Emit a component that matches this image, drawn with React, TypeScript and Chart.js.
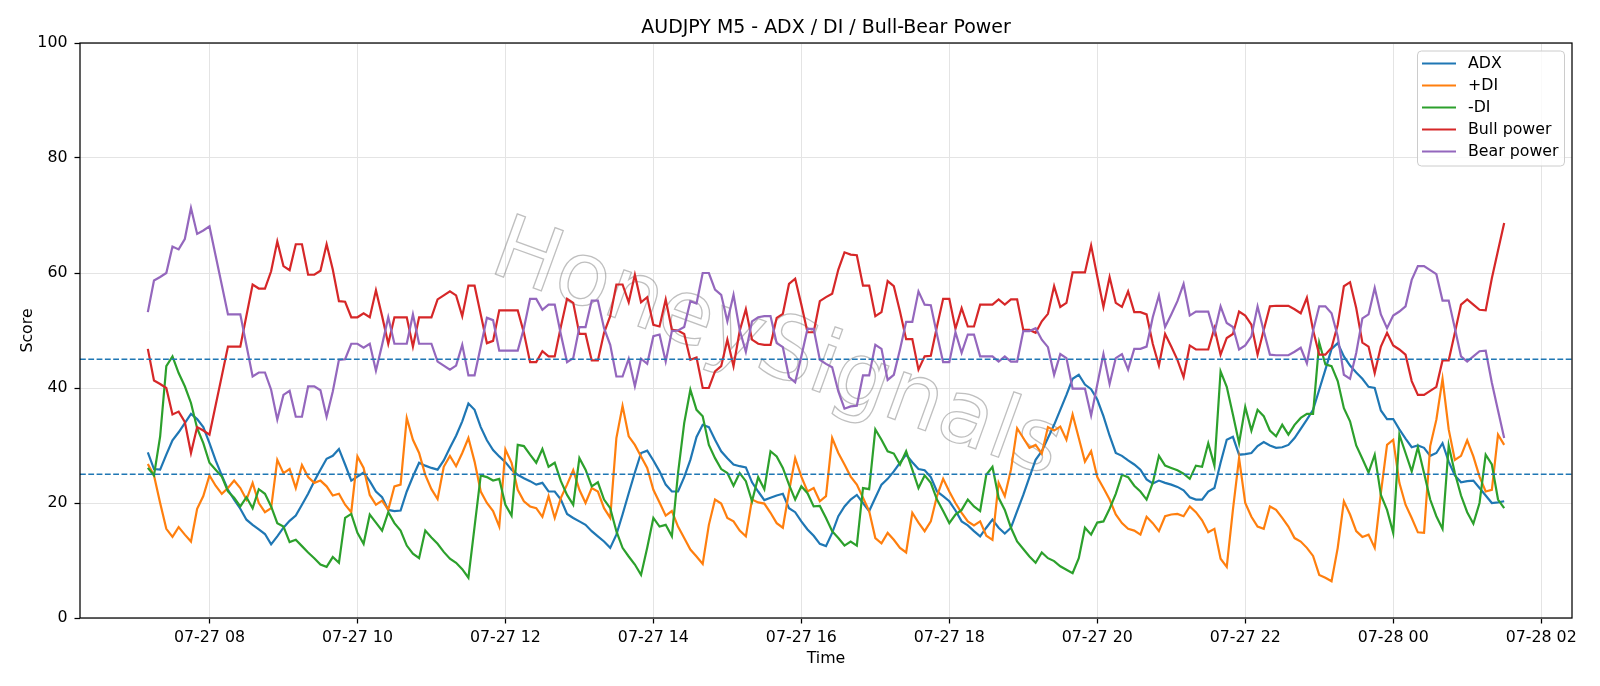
import React, { useEffect, useRef } from 'react';
import { Chart, registerables } from 'chart.js';

Chart.register(...registerables);

// time axis: minutes since 07-27 00:00, one bar every 5 minutes from 07:10
const startMinute = 430;
const stepMinutes = 5;
const xMin = 375;
const xMax = 1585;
const xTickMinutes = [480, 600, 720, 840, 960, 1080, 1200, 1320, 1440, 1560];
const yTicks = [0, 20, 40, 60, 80, 100];
const thresholds = [25, 45];
const seriesNames = ['ADX', '+DI', '-DI', 'Bull power', 'Bear power'];
const seriesColors = ['#1f77b4', '#ff7f0e', '#2ca02c', '#d62728', '#9467bd'];
const titleText = 'AUDJPY M5 - ADX / DI / Bull-Bear Power';
const watermarkText = 'HoneySignals';

const adx = [
  28.8, 25.9, 25.8, 28.4, 30.9, 32.3, 33.9, 35.5, 34.6, 33.2, 30.4, 27.4, 24.8, 22.3, 20.6, 19.0, 17.1, 16.2, 15.4, 14.6, 12.8, 14.2,
  15.7, 16.9, 17.8, 19.7, 21.6, 23.8, 25.8, 27.7, 28.2, 29.4, 26.7, 23.9, 24.6, 25.3, 23.8, 22.0, 21.0, 18.8, 18.6, 18.7, 22.0, 24.6, 27.0,
  26.5, 26.1, 25.8, 27.4, 29.6, 31.7, 34.2, 37.3, 36.2, 33.2, 30.9, 29.2, 28.1, 27.1, 25.8, 24.9, 24.3, 23.8, 23.2, 23.5, 22.0, 22.0,
  20.6, 18.1, 17.4, 16.8, 16.2, 15.1, 14.2, 13.3, 12.2, 14.5, 18.0, 21.7, 25.3, 28.7, 29.1, 27.4, 25.5, 23.2, 22.0, 22.0, 24.5, 27.5, 31.5,
  33.6, 33.2, 31.0, 29.0, 27.8, 26.7, 26.4, 26.2, 23.6, 22.0, 20.5, 20.9, 21.3, 21.6, 19.1, 18.4, 16.8, 15.4, 14.3, 12.9, 12.5, 14.8, 17.7,
  19.4, 20.6, 21.4, 20.0, 18.6, 20.9, 23.2, 24.2, 25.5, 27.0, 28.4, 27.1, 25.9, 25.7, 24.5, 22.0, 21.2, 20.3, 18.7, 16.8, 16.1, 15.1,
  14.2, 15.7, 17.1, 15.7, 14.7, 15.7, 18.6, 21.4, 24.5, 27.5, 29.0, 31.3, 33.6, 36.2, 38.8, 41.6, 42.3, 40.6, 39.8, 38.0, 35.1, 31.7, 28.7,
  28.2, 27.4, 26.7, 25.8, 24.1, 23.4, 23.9, 23.5, 23.2, 22.8, 22.2, 21.0, 20.6, 20.6, 22.0, 22.6, 27.0, 31.0, 31.5, 28.4, 28.5, 28.7, 29.9,
  30.6, 30.0, 29.6, 29.7, 30.1, 31.3, 32.9, 34.5, 36.2, 39.7, 43.2, 46.8, 47.8, 45.5, 43.9, 42.7, 41.6, 40.2, 40.0, 36.1, 34.6, 34.6,
  32.8, 31.2, 29.7, 30.0, 29.6, 28.2, 28.7, 30.4, 27.2, 24.8, 23.6, 23.8, 23.9, 22.6, 21.3, 20.0, 20.1, 20.3,
];

const plusDI = [
  26.8, 24.8, 20.0, 15.5, 14.1, 15.8, 14.5, 13.3, 19.0, 21.2, 24.8, 23.0, 21.6, 22.6, 23.9, 22.6, 20.6, 23.5, 20.0, 18.4, 19.1, 27.5,
  25.2, 25.9, 22.6, 26.6, 24.5, 23.5, 23.9, 22.9, 21.3, 21.6, 19.7, 18.4, 28.1, 26.1, 21.4, 19.7, 20.4, 18.8, 22.9, 23.2, 34.8, 31.0, 28.7,
  24.9, 22.4, 20.7, 26.3, 28.2, 26.4, 28.7, 31.3, 27.2, 22.0, 20.0, 18.6, 15.9, 29.3, 27.0, 22.3, 20.3, 19.4, 19.1, 17.6, 21.2, 17.4,
  20.9, 23.2, 25.7, 22.3, 20.0, 22.6, 22.0, 19.1, 17.4, 31.3, 36.9, 31.6, 30.1, 28.1, 26.1, 22.3, 20.1, 17.8, 18.6, 15.9, 13.9, 11.9, 10.7,
  9.4, 16.2, 20.6, 19.9, 17.4, 16.8, 15.2, 14.2, 20.6, 20.1, 19.9, 18.3, 16.5, 15.7, 22.0, 27.8, 24.6, 22.0, 22.6, 20.3, 21.2, 31.3, 28.7,
  26.7, 24.6, 23.2, 20.9, 18.6, 13.9, 13.0, 14.8, 13.6, 12.2, 11.4, 18.3, 16.6, 15.1, 16.8, 21.2, 24.2, 22.0, 20.0, 18.3, 16.8, 16.1,
  16.8, 14.3, 13.6, 23.5, 21.2, 25.8, 33.0, 31.3, 29.6, 30.1, 28.6, 33.2, 32.6, 33.3, 31.0, 35.4, 31.3, 27.2, 29.0, 24.5, 22.6, 20.6, 18.0,
  16.5, 15.5, 15.2, 14.5, 17.6, 16.5, 15.1, 17.7, 18.0, 18.1, 17.7, 19.4, 18.4, 17.0, 14.9, 15.5, 10.3, 8.9, 18.8, 27.8, 20.0, 17.6, 15.9,
  15.5, 19.4, 18.8, 17.4, 15.9, 13.9, 13.3, 12.2, 10.8, 7.5, 7.0, 6.4, 12.2, 20.3, 18.0, 15.1, 14.1, 14.5, 12.2, 21.7, 30.1, 31.0,
  23.5, 19.7, 17.4, 14.9, 14.8, 29.9, 34.5, 41.6, 32.8, 27.5, 28.2, 30.9, 28.1, 24.6, 22.0, 22.3, 31.9, 30.1,
];

const minusDI = [
  26.1, 24.8, 31.6, 43.8, 45.5, 42.6, 40.3, 37.4, 33.0, 30.4, 27.0, 25.8, 24.6, 22.0, 20.9, 19.4, 21.0, 19.1, 22.4, 21.6, 19.4, 16.5,
  15.9, 13.2, 13.6, 12.5, 11.4, 10.4, 9.3, 8.9, 10.6, 9.6, 17.4, 18.1, 14.8, 12.9, 18.0, 16.6, 15.2, 18.4, 16.5, 15.2, 12.6, 11.2, 10.4,
  15.2, 14.0, 12.9, 11.5, 10.3, 9.6, 8.5, 7.0, 15.9, 24.8, 24.5, 23.9, 24.2, 19.7, 17.8, 30.1, 29.9, 28.4, 27.0, 29.4, 26.3, 27.0,
  23.8, 21.4, 19.7, 27.8, 25.8, 22.9, 23.6, 20.6, 19.1, 15.1, 12.2, 10.7, 9.3, 7.5, 12.2, 17.4, 15.9, 16.2, 14.2, 25.2, 33.9, 39.7, 36.2,
  35.1, 30.1, 27.8, 25.9, 25.2, 23.0, 25.2, 23.8, 20.3, 24.5, 22.4, 29.0, 28.1, 26.1, 23.2, 20.6, 22.9, 21.7, 19.4, 19.5, 17.4, 15.1, 13.9,
  12.6, 13.3, 12.6, 22.6, 22.4, 32.8, 31.0, 29.0, 28.6, 26.7, 29.0, 25.8, 22.6, 24.8, 23.5, 20.6, 18.6, 16.5, 18.0, 18.8, 20.6, 19.4,
  18.6, 24.9, 26.3, 20.9, 18.8, 15.7, 13.3, 12.0, 10.7, 9.6, 11.4, 10.4, 9.9, 9.0, 8.4, 7.8, 10.4, 15.7, 14.5, 16.6, 16.8, 19.0, 21.6,
  24.9, 24.5, 23.0, 22.0, 20.6, 23.5, 28.2, 26.5, 26.1, 25.7, 25.1, 24.2, 26.5, 26.3, 30.4, 26.5, 42.9, 40.2, 35.4, 30.4, 36.7, 32.6, 36.2,
  35.1, 32.6, 31.6, 33.6, 31.9, 33.6, 34.8, 35.5, 35.5, 47.9, 44.1, 43.8, 41.2, 36.5, 34.2, 30.0, 27.7, 25.3, 28.4, 21.4, 18.8, 14.8,
  31.9, 28.7, 25.5, 29.7, 25.2, 20.6, 17.7, 15.5, 30.0, 25.2, 21.3, 18.4, 16.4, 20.0, 28.4, 26.7, 20.6, 19.1,
];

const bullPower = [
  46.8, 41.3, 40.7, 40.0, 35.4, 35.9, 34.1, 28.7, 33.2, 32.6, 31.9, 37.0, 42.1, 47.2, 47.2, 47.2, 52.6, 58.0, 57.3, 57.3, 60.3, 65.5,
  61.2, 60.5, 65.0, 65.0, 59.7, 59.7, 60.4, 65.0, 60.6, 55.1, 55.0, 52.3, 52.3, 53.0, 52.3, 57.0, 52.5, 47.7, 52.3, 52.3, 52.3, 47.2, 52.3,
  52.3, 52.3, 55.4, 56.1, 56.8, 56.1, 52.5, 57.8, 57.8, 52.8, 47.8, 48.2, 53.5, 53.5, 53.5, 53.5, 49.6, 44.5, 44.5, 46.4, 45.5, 45.5,
  50.7, 55.5, 54.8, 49.4, 49.4, 44.8, 44.8, 49.6, 52.5, 58.0, 58.0, 54.9, 59.7, 54.9, 55.8, 51.0, 50.7, 55.4, 50.1, 50.0, 49.4, 44.9, 45.3,
  40.0, 40.0, 42.9, 43.8, 48.4, 43.8, 49.9, 53.7, 48.4, 47.7, 47.5, 47.5, 52.2, 52.9, 58.1, 59.0, 54.5, 49.7, 49.7, 55.1, 55.8, 56.4, 60.6,
  63.6, 63.2, 63.1, 57.8, 57.8, 52.5, 53.2, 58.6, 57.7, 53.3, 48.5, 48.5, 43.2, 45.5, 45.6, 50.7, 55.5, 55.5, 50.3, 53.9, 50.7, 50.7,
  54.5, 54.5, 54.5, 55.4, 54.5, 55.4, 55.4, 50.1, 50.1, 49.6, 51.6, 52.9, 57.7, 54.1, 54.8, 60.1, 60.1, 60.1, 64.8, 59.4, 54.1, 59.3, 54.8,
  54.1, 56.8, 53.2, 53.2, 52.8, 47.7, 43.9, 49.4, 47.2, 44.9, 41.9, 47.4, 46.7, 46.7, 46.7, 50.4, 45.8, 48.7, 49.4, 53.3, 52.6, 51.0, 45.8,
  50.1, 54.2, 54.3, 54.3, 54.3, 53.7, 53.0, 55.7, 50.1, 45.8, 45.8, 47.0, 51.0, 57.7, 58.4, 53.9, 47.9, 47.2, 42.6, 47.2, 49.6, 47.4,
  46.7, 45.8, 41.2, 38.8, 38.8, 39.5, 40.2, 44.8, 44.8, 49.6, 54.5, 55.4, 54.5, 53.6, 53.5, 59.1, 63.9, 68.7,
];

const bearPower = [
  53.2, 58.7, 59.3, 60.0, 64.6, 64.1, 65.9, 71.3, 66.8, 67.4, 68.1, 63.0, 57.9, 52.8, 52.8, 52.8, 47.4, 42.0, 42.7, 42.7, 39.7, 34.5,
  38.8, 39.5, 35.0, 35.0, 40.3, 40.3, 39.6, 35.0, 39.4, 44.9, 45.0, 47.7, 47.7, 47.0, 47.7, 43.0, 47.5, 52.3, 47.7, 47.7, 47.7, 52.8, 47.7,
  47.7, 47.7, 44.6, 43.9, 43.2, 43.9, 47.5, 42.2, 42.2, 47.2, 52.2, 51.8, 46.5, 46.5, 46.5, 46.5, 50.4, 55.5, 55.5, 53.6, 54.5, 54.5,
  49.3, 44.5, 45.2, 50.6, 50.6, 55.2, 55.2, 50.4, 47.5, 42.0, 42.0, 45.1, 40.3, 45.1, 44.2, 49.0, 49.3, 44.6, 49.9, 50.0, 50.6, 55.1, 54.7,
  60.0, 60.0, 57.1, 56.2, 51.6, 56.2, 50.1, 46.3, 51.6, 52.3, 52.5, 52.5, 47.8, 47.1, 41.9, 41.0, 45.5, 50.3, 50.3, 44.9, 44.2, 43.6, 39.4,
  36.4, 36.8, 36.9, 42.2, 42.2, 47.5, 46.8, 41.4, 42.3, 46.7, 51.5, 51.5, 56.8, 54.5, 54.4, 49.3, 44.5, 44.5, 49.7, 46.1, 49.3, 49.3,
  45.5, 45.5, 45.5, 44.6, 45.5, 44.6, 44.6, 49.9, 49.9, 50.4, 48.4, 47.1, 42.3, 45.9, 45.2, 39.9, 39.9, 39.9, 35.2, 40.6, 45.9, 40.7, 45.2,
  45.9, 43.2, 46.8, 46.8, 47.2, 52.3, 56.1, 50.6, 52.8, 55.1, 58.1, 52.6, 53.3, 53.3, 53.3, 49.6, 54.2, 51.3, 50.6, 46.7, 47.4, 49.0, 54.2,
  49.9, 45.8, 45.7, 45.7, 45.7, 46.3, 47.0, 44.3, 49.9, 54.2, 54.2, 53.0, 49.0, 42.3, 41.6, 46.1, 52.1, 52.8, 57.4, 52.8, 50.4, 52.6,
  53.3, 54.2, 58.8, 61.2, 61.2, 60.5, 59.8, 55.2, 55.2, 50.4, 45.5, 44.6, 45.5, 46.4, 46.5, 40.9, 36.1, 31.3,
];

const FONT = '"DejaVu Sans", "Liberation Sans", sans-serif';
const FS = 15.8;

function fmtTick(v: number): string {
  const m = Number(v);
  const day = m >= 1440 ? '07-28' : '07-27';
  const h = Math.floor(m / 60) % 24;
  return `${day} ${String(h).padStart(2, '0')}`;
}

const decorPlugin = {
  id: 'decor',
  beforeDatasetsDraw(chart: any) {
    const ctx = chart.ctx as CanvasRenderingContext2D;
    const a = chart.chartArea;
    ctx.save();
    ctx.beginPath();
    ctx.rect(a.left, a.top, a.right - a.left, a.bottom - a.top);
    ctx.clip();
    ctx.translate(776, 352);
    ctx.rotate((20 * Math.PI) / 180);
    ctx.font = `88px ${FONT}`;
    ctx.textAlign = 'center';
    ctx.textBaseline = 'middle';
    ctx.lineWidth = 1.3;
    ctx.strokeStyle = 'rgba(128,128,128,0.5)';
    ctx.strokeText(watermarkText, 0, 0);
    ctx.restore();
  },
  afterDraw(chart: any) {
    const ctx = chart.ctx as CanvasRenderingContext2D;
    const a = chart.chartArea;
    ctx.save();
    // frame
    ctx.strokeStyle = '#000';
    ctx.lineWidth = 1.25;
    ctx.strokeRect(a.left, a.top, a.right - a.left, a.bottom - a.top);
    // title
    ctx.fillStyle = '#000';
    ctx.font = `${FS * 1.2}px ${FONT}`;
    ctx.textAlign = 'center';
    ctx.textBaseline = 'alphabetic';
    ctx.fillText(titleText, (a.left + a.right) / 2, 32.5);
    // legend
    const bx = 1417.5, by = 51, bw = 147, bh = 115, r = 4;
    ctx.beginPath();
    ctx.moveTo(bx + r, by);
    ctx.lineTo(bx + bw - r, by);
    ctx.quadraticCurveTo(bx + bw, by, bx + bw, by + r);
    ctx.lineTo(bx + bw, by + bh - r);
    ctx.quadraticCurveTo(bx + bw, by + bh, bx + bw - r, by + bh);
    ctx.lineTo(bx + r, by + bh);
    ctx.quadraticCurveTo(bx, by + bh, bx, by + bh - r);
    ctx.lineTo(bx, by + r);
    ctx.quadraticCurveTo(bx, by, bx + r, by);
    ctx.closePath();
    ctx.fillStyle = 'rgba(255,255,255,0.8)';
    ctx.fill();
    ctx.strokeStyle = '#cccccc';
    ctx.lineWidth = 1;
    ctx.stroke();
    ctx.font = `${FS}px ${FONT}`;
    ctx.textAlign = 'left';
    ctx.textBaseline = 'middle';
    seriesNames.forEach((name, k) => {
      const y = 63.5 + 22 * k;
      ctx.strokeStyle = seriesColors[k];
      ctx.lineWidth = 2.2;
      ctx.beginPath();
      ctx.moveTo(1422, y);
      ctx.lineTo(1456, y);
      ctx.stroke();
      ctx.fillStyle = '#000';
      ctx.fillText(name, 1468, y + 0.5);
    });
    ctx.restore();
  },
};

export default function App() {
  const ref = useRef<HTMLCanvasElement>(null);
  useEffect(() => {
    document.body.style.margin = '0';
    const canvas = ref.current;
    if (!canvas) return;
    const pts = (arr: number[]) => arr.map((v, i) => ({ x: startMinute + i * stepMinutes, y: v }));
    const series = [adx, plusDI, minusDI, bullPower, bearPower];
    const datasets: any[] = series.map((arr, k) => ({
      label: seriesNames[k],
      data: pts(arr),
      borderColor: seriesColors[k],
      backgroundColor: seriesColors[k],
      borderWidth: 2.2,
      pointRadius: 0,
      tension: 0,
      fill: false,
      order: 10 - k,
    }));
    thresholds.forEach((t, k) => {
      datasets.push({
        label: `th${t}`,
        data: [
          { x: xMin, y: t },
          { x: xMax, y: t },
        ],
        borderColor: '#1f77b4',
        borderWidth: 1.4,
        borderDash: [5.8, 2.5],
        pointRadius: 0,
        fill: false,
        order: 2 - k,
      });
    });
    const chart = new Chart(canvas, {
      type: 'line',
      data: { datasets },
      plugins: [decorPlugin],
      options: {
        animation: false,
        responsive: false,
        maintainAspectRatio: false,
        layout: { padding: { top: 43, right: 28, left: 0, bottom: 0 } },
        plugins: { legend: { display: false }, title: { display: false }, tooltip: { enabled: false } },
        scales: {
          x: {
            type: 'linear',
            min: xMin,
            max: xMax,
            afterFit: (s: any) => {
              s.height = 68;
            },
            afterBuildTicks: (s: any) => {
              s.ticks = xTickMinutes.map((v) => ({ value: v }));
            },
            ticks: {
              autoSkip: false,
              maxRotation: 0,
              minRotation: 0,
              color: '#000',
              padding: 5,
              font: { family: FONT, size: FS },
              callback: (v: any) => fmtTick(v),
            },
            grid: { color: '#e4e4e4', lineWidth: 1, drawTicks: true, tickLength: 5.5, tickColor: '#000', tickWidth: 1.25 },
            border: { display: false },
            title: { display: true, text: 'Time', color: '#000', font: { family: FONT, size: FS }, padding: { top: 0, bottom: 18 } },
          },
          y: {
            type: 'linear',
            min: 0,
            max: 100,
            afterFit: (s: any) => {
              s.width = 80;
            },
            afterBuildTicks: (s: any) => {
              s.ticks = yTicks.map((v) => ({ value: v }));
            },
            ticks: { color: '#000', padding: 7, font: { family: FONT, size: FS } },
            grid: { color: '#e4e4e4', lineWidth: 1, drawTicks: true, tickLength: 5.5, tickColor: '#000', tickWidth: 1.25 },
            border: { display: false },
            title: { display: true, text: 'Score', color: '#000', font: { family: FONT, size: FS }, padding: { top: 18, bottom: 0 } },
          },
        },
      },
    });
    return () => chart.destroy();
  }, []);
  return (
    <div style={{ position: 'absolute', left: 0, top: 0, width: 1600, height: 686, background: '#fff' }}>
      <canvas ref={ref} width={1600} height={686} style={{ display: 'block', width: 1600, height: 686 }} />
    </div>
  );
}
